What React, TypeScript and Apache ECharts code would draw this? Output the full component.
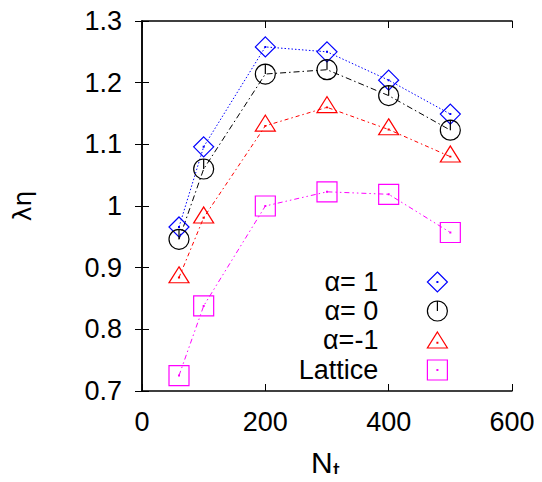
import React, { useEffect, useRef } from "react";
import * as echarts from "echarts";

const nt = [60, 100, 200, 300, 400, 500];
const alphaPlus1 = [0.966, 1.096, 1.258, 1.250, 1.204, 1.149];
const alphaZero = [0.946, 1.060, 1.214, 1.221, 1.179, 1.123];
const alphaMinus1 = [0.884, 0.981, 1.130, 1.160, 1.124, 1.080];
const lattice = [0.725, 0.838, 1.000, 1.023, 1.019, 0.957];
const seriesNames = ["α= 1", "α= 0", "α=-1", "Lattice"];
const xTicks = [0, 200, 400, 600];
const yTicks = [0.7, 0.8, 0.9, 1.0, 1.1, 1.2, 1.3];

const FONT = "Liberation Sans";
const DOT = "M9.6,9.6h0.8v0.8h-0.8z";
const DIAMOND = "path://M10,0L20,10L10,20L0,10Z" + DOT;
const CIRCLE = "path://M0,10a10,10 0 1,0 20,0a10,10 0 1,0 -20,0M10,0L10,10";
const TRIANGLE = "path://M10,0L20,16L0,16Z" + "M9.6,10.3h0.8v0.8h-0.8z";
const SQUARE = "path://M0,0h20v20h-20Z" + DOT;

const colors = ["#0000ff", "#000000", "#ff0000", "#ff00ff"];
const symbols = [DIAMOND, CIRCLE, TRIANGLE, SQUARE];
const symbolSizes: any[] = [[20, 20], [20, 20], [20, 16], [20, 20]];
const dashes: any[] = [[1.5, 2], [6, 3, 1.5, 3], [4, 3, 1.5, 3], [5, 3, 1.5, 3, 1.5, 3]];
const values = [alphaPlus1, alphaZero, alphaMinus1, lattice];
const legendCenters = [282, 311, 340, 370];

export default function App() {
  const ref = useRef<HTMLDivElement>(null);
  useEffect(() => {
    if (!ref.current) return;
    const chart = echarts.init(ref.current, undefined, { renderer: "svg" });
    const axisLine = { show: true, lineStyle: { color: "#000", width: 1.5 } };
    const tick = { show: true, inside: true, length: 7, lineStyle: { color: "#000", width: 1 } };
    const fmt = (v: number) => String(parseFloat(Number(v).toFixed(1)));
    const series = values.map((vals, i) => ({
      name: seriesNames[i],
      type: "line",
      xAxisIndex: 0,
      yAxisIndex: 0,
      data: nt.map((x, j) => [x, vals[j]]),
      symbol: symbols[i],
      symbolSize: symbolSizes[i],
      symbolOffset: i === 2 ? [0, -2.7] : [0, 0],
      showAllSymbol: true,
      lineStyle: { color: colors[i], width: 1, type: dashes[i] },
      itemStyle: { color: "transparent", borderColor: colors[i], borderWidth: 1.2 },
      emphasis: { disabled: true },
      z: 3,
    }));
    const legends = seriesNames.map((name, i) => ({
      show: true,
      orient: "vertical",
      align: "right",
      right: 94,
      top: legendCenters[i] - 13.5,
      padding: 0,
      itemWidth: 20,
      itemHeight: i === 2 ? 16 : 20,
      selectedMode: false,
      textStyle: { fontFamily: FONT, fontSize: 27, lineHeight: 27, color: "#000", padding: [0, 44, 0, 0] },
      data: [
        {
          name,
          icon: symbols[i],
          itemStyle: { color: "transparent", borderColor: colors[i], borderWidth: 1.2 },
        },
      ],
    }));
    chart.setOption({
      animation: false,
      grid: { left: 142, top: 21, right: 30, bottom: 91, containLabel: false },
      legend: legends,
      xAxis: [
        {
          type: "value",
          position: "bottom",
          min: 0,
          max: 600,
          interval: 200,
          axisLine,
          axisTick: tick,
          splitLine: { show: false },
          axisLabel: { fontFamily: FONT, fontSize: 27, lineHeight: 27, color: "#000", margin: 17 },
        },
        {
          type: "value",
          position: "top",
          min: 0,
          max: 600,
          interval: 200,
          axisLine,
          axisTick: tick,
          splitLine: { show: false },
          axisLabel: { show: false },
        },
      ],
      yAxis: [
        {
          type: "value",
          position: "left",
          min: 0.7,
          max: 1.3,
          interval: 0.1,
          axisLine,
          axisTick: tick,
          splitLine: { show: false },
          axisLabel: { fontFamily: FONT, fontSize: 27, color: "#000", margin: 20, formatter: fmt },
        },
        {
          type: "value",
          position: "right",
          min: 0.7,
          max: 1.3,
          interval: 0.1,
          axisLine,
          axisTick: tick,
          splitLine: { show: false },
          axisLabel: { show: false },
        },
      ],
      series,
      graphic: [
        {
          type: "text",
          x: 311,
          y: 462,
          style: { text: "N", fontFamily: FONT, fontSize: 30, fill: "#000", align: "left", verticalAlign: "middle" },
        },
        {
          type: "text",
          x: 333,
          y: 458,
          style: { text: "t", fontFamily: FONT, fontSize: 24, fill: "#000", align: "left", verticalAlign: "top" },
        },
        {
          type: "text",
          x: 22,
          y: 206,
          rotation: Math.PI / 2,
          style: { text: "λη", fontFamily: "DejaVu Sans", fontSize: 25, fill: "#000", align: "center", verticalAlign: "middle" },
        },
      ],
    });
    return () => chart.dispose();
  }, []);
  return <div ref={ref} style={{ width: 542, height: 482, margin: -8 }} />;
}
